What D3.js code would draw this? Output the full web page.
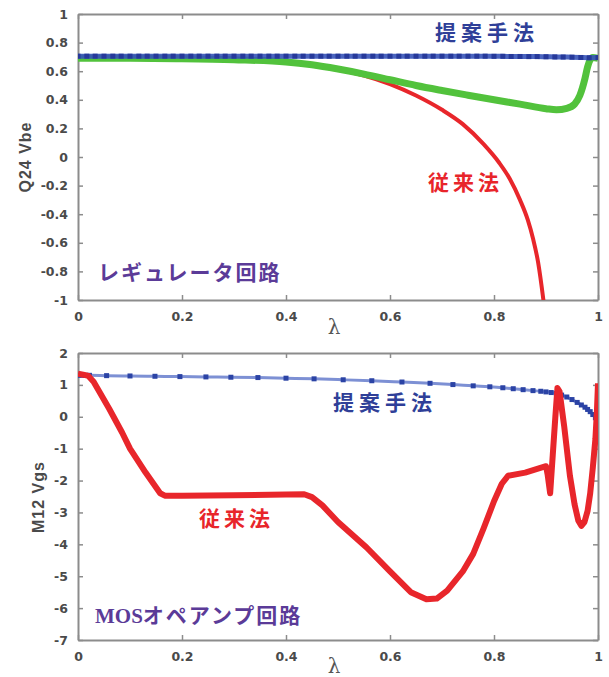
<!DOCTYPE html>
<html><head><meta charset="utf-8">
<script src="https://cdn.jsdelivr.net/npm/d3@7/dist/d3.min.js"></script>
<style>body{margin:0;background:#fff}svg{display:block}</style>
</head><body><svg id="c" width="609" height="677"></svg>
<script>
// ---------- data ----------
const xTicks = [0, 0.2, 0.4, 0.6, 0.8, 1];
const xTickLabels = ["0", "0.2", "0.4", "0.6", "0.8", "1"];
const topYTicks = [-1, -0.8, -0.6, -0.4, -0.2, 0, 0.2, 0.4, 0.6, 0.8, 1];
const topYTickLabels = ["-1", "-0.8", "-0.6", "-0.4", "-0.2", "0", "0.2", "0.4", "0.6", "0.8", "1"];
const botYTicks = [-7, -6, -5, -4, -3, -2, -1, 0, 1, 2];
const botYTickLabels = ["-7", "-6", "-5", "-4", "-3", "-2", "-1", "0", "1", "2"];

// top panel: conventional (red)
const topRedX = [0, 0.1, 0.2, 0.3, 0.4, 0.45, 0.5, 0.55, 0.6, 0.65, 0.7, 0.74, 0.78, 0.81, 0.83, 0.85, 0.865, 0.875, 0.885, 0.895, 0.9];
const topRedY = [0.70, 0.699, 0.695, 0.685, 0.66, 0.64, 0.61, 0.57, 0.51, 0.43, 0.33, 0.23, 0.09, -0.04, -0.15, -0.30, -0.44, -0.57, -0.74, -1.0, -1.15];
// top panel: green
const topGreenX = [0, 0.1, 0.2, 0.3, 0.4, 0.45, 0.5, 0.55, 0.6, 0.65, 0.7, 0.75, 0.8, 0.85, 0.9, 0.92, 0.94, 0.955, 0.965, 0.975, 0.98, 0.985, 0.99, 1.0];
const topGreenY = [0.69, 0.69, 0.687, 0.68, 0.665, 0.645, 0.615, 0.58, 0.54, 0.5, 0.465, 0.432, 0.40, 0.37, 0.338, 0.33, 0.34, 0.37, 0.43, 0.55, 0.63, 0.68, 0.695, 0.69];
// top panel: proposed (blue, markers)
const topBlueX = [0, 0.017, 0.033, 0.05, 0.067, 0.083, 0.1, 0.117, 0.133, 0.15, 0.167, 0.183, 0.2, 0.217, 0.233, 0.25, 0.267, 0.283, 0.3, 0.317, 0.333, 0.35, 0.367, 0.383, 0.4, 0.417, 0.433, 0.45, 0.467, 0.483, 0.5, 0.517, 0.533, 0.55, 0.567, 0.583, 0.6, 0.617, 0.633, 0.65, 0.667, 0.683, 0.7, 0.717, 0.733, 0.75, 0.767, 0.783, 0.8, 0.817, 0.833, 0.85, 0.867, 0.883, 0.9, 0.917, 0.933, 0.95, 0.967, 0.983, 1.0];
const topBlueY = [0.705, 0.705, 0.705, 0.705, 0.705, 0.705, 0.705, 0.705, 0.705, 0.705, 0.705, 0.705, 0.705, 0.705, 0.705, 0.705, 0.705, 0.705, 0.705, 0.705, 0.705, 0.705, 0.705, 0.705, 0.705, 0.705, 0.705, 0.705, 0.705, 0.705, 0.705, 0.705, 0.705, 0.705, 0.705, 0.705, 0.705, 0.705, 0.705, 0.705, 0.705, 0.705, 0.705, 0.705, 0.705, 0.705, 0.705, 0.705, 0.704, 0.704, 0.703, 0.703, 0.702, 0.702, 0.701, 0.700, 0.699, 0.698, 0.696, 0.694, 0.695];

// bottom panel: conventional (red)
const botRedX = [0, 0.01, 0.02, 0.03, 0.06, 0.085, 0.1, 0.13, 0.158, 0.168, 0.2, 0.3, 0.4, 0.435, 0.45, 0.47, 0.5, 0.555, 0.6, 0.64, 0.67, 0.69, 0.71, 0.74, 0.76, 0.78, 0.8, 0.815, 0.827, 0.86, 0.9, 0.903, 0.908, 0.913, 0.918, 0.922, 0.926, 0.935, 0.946, 0.955, 0.962, 0.968, 0.974, 0.98, 0.985, 0.99, 0.995, 0.998, 1.0];
const botRedY = [1.35, 1.32, 1.28, 1.10, 0.25, -0.5, -1.0, -1.75, -2.4, -2.48, -2.48, -2.46, -2.44, -2.43, -2.52, -2.78, -3.3, -4.1, -4.85, -5.5, -5.72, -5.7, -5.45, -4.85, -4.3, -3.5, -2.65, -2.1, -1.85, -1.75, -1.55, -1.8, -2.4, -1.2, 0.0, 0.9, 0.8, -0.3, -1.85, -2.75, -3.25, -3.42, -3.3, -2.95, -2.4, -1.6, -0.7, 0.2, 1.05];
// bottom panel: proposed (blue, markers)
const botBlueX = [0, 0.008, 0.015, 0.022, 0.055, 0.1, 0.148, 0.196, 0.246, 0.294, 0.346, 0.4, 0.454, 0.51, 0.565, 0.623, 0.677, 0.721, 0.76, 0.792, 0.817, 0.837, 0.856, 0.875, 0.89, 0.9, 0.91, 0.92, 0.93, 0.94, 0.95, 0.96, 0.968, 0.975, 0.98, 0.985, 0.99, 0.995, 1.0];
const botBlueY = [1.30, 1.30, 1.30, 1.30, 1.29, 1.28, 1.27, 1.26, 1.25, 1.24, 1.23, 1.21, 1.19, 1.16, 1.13, 1.09, 1.05, 1.01, 0.97, 0.94, 0.91, 0.88, 0.85, 0.82, 0.80, 0.78, 0.76, 0.73, 0.68, 0.62, 0.54, 0.45, 0.37, 0.30, 0.23, 0.16, 0.07, -0.03, -0.15];

// ---------- drawing ----------
const svg = d3.select("#c");
svg.append("rect").attr("width", 609).attr("height", 677).attr("fill", "#fff");

const x = d3.scaleLinear().domain([0, 1]).range([78, 598]);
const yTop = d3.scaleLinear().domain([-1, 1]).range([300, 14]);
const yBot = d3.scaleLinear().domain([-7, 2]).range([640, 353]);

const zip = (xs, ys) => xs.map((v, i) => [v, ys[i]]);
const GRAY = "#8c8c8c";
const TXT = "#4a4a4a";

function panel(y, yTicks, yLabels, id) {
  const g = svg.append("g");
  const [y0, y1] = y.range();
  g.append("clipPath").attr("id", id).append("rect")
    .attr("x", x(0)).attr("y", y1).attr("width", x(1) - x(0)).attr("height", y0 - y1);
  const ax = (gen, tr) => g.append("g").attr("transform", tr).call(gen)
    .call(s => s.select(".domain").attr("stroke", GRAY).attr("stroke-width", 2))
    .call(s => s.selectAll(".tick line").attr("stroke", GRAY).attr("stroke-width", 1.5));
  const lbl = s => s.selectAll("text").attr("fill", TXT)
    .attr("font-family", "DejaVu Sans, sans-serif").attr("font-size", 12.5).attr("font-weight", "bold");
  ax(d3.axisBottom(x).tickValues(xTicks).tickFormat((d, i) => xTickLabels[i]).tickSizeInner(-5).tickSizeOuter(0).tickPadding(12), `translate(0,${y0})`).call(lbl);
  ax(d3.axisTop(x).tickValues(xTicks).tickFormat("").tickSizeInner(-5).tickSizeOuter(0), `translate(0,${y1})`);
  ax(d3.axisLeft(y).tickValues(yTicks).tickFormat((d, i) => yLabels[i]).tickSizeInner(-5).tickSizeOuter(0).tickPadding(10), `translate(${x(0)},0)`).call(lbl);
  ax(d3.axisRight(y).tickValues(yTicks).tickFormat("").tickSizeInner(-5).tickSizeOuter(0), `translate(${x(1)},0)`);
  return g.append("g").attr("clip-path", `url(#${id})`);
}

// ----- top panel -----
const pt = panel(yTop, topYTicks, topYTickLabels, "clipTop");
const lineT = d3.line().x(d => x(d[0])).y(d => yTop(d[1])).curve(d3.curveMonotoneX);
pt.append("path").attr("d", lineT(zip(topRedX, topRedY))).attr("fill", "none")
  .attr("stroke", "#e8262b").attr("stroke-width", 4);
pt.append("path").attr("d", lineT(zip(topGreenX, topGreenY))).attr("fill", "none")
  .attr("stroke", "#52c23c").attr("stroke-width", 7).attr("stroke-linejoin", "round");
pt.append("path").attr("d", lineT(zip(topBlueX, topBlueY))).attr("fill", "none")
  .attr("stroke", "#3653b8").attr("stroke-width", 5).attr("opacity", 0.9);
pt.selectAll("rect.m").data(zip(topBlueX, topBlueY)).join("rect").attr("class", "m")
  .attr("x", d => x(d[0]) - 2.5).attr("y", d => yTop(d[1]) - 2.5).attr("width", 5).attr("height", 5)
  .attr("fill", "#26399a");

// ----- bottom panel -----
const pb = panel(yBot, botYTicks, botYTickLabels, "clipBot");
pb.append("path").attr("d", d3.line().x(d => x(d[0])).y(d => yBot(d[1])).curve(d3.curveMonotoneX)(zip(botBlueX, botBlueY))).attr("fill", "none")
  .attr("stroke", "#7d90d4").attr("stroke-width", 3);
pb.selectAll("rect.m").data(zip(botBlueX, botBlueY)).join("rect").attr("class", "m")
  .attr("x", d => x(d[0]) - 2.5).attr("y", d => yBot(d[1]) - 2.5).attr("width", 5).attr("height", 5)
  .attr("fill", "#2b43a5");
pb.append("path").attr("d", d3.line().x(d => x(d[0])).y(d => yBot(d[1]))(zip(botRedX, botRedY))).attr("fill", "none")
  .attr("stroke", "#e8262b").attr("stroke-width", 6).attr("stroke-linejoin", "round");

// ----- axis titles -----
const lam = (cy) => svg.append("text").attr("x", 334).attr("y", cy).attr("text-anchor", "middle")
  .attr("font-family", "DejaVu Serif, serif").attr("font-size", 20).attr("fill", "#555").text("λ");
lam(334); lam(673);
const ylab = (cx, cy, t) => svg.append("text").attr("transform", `translate(${cx},${cy}) rotate(-90)`)
  .attr("text-anchor", "middle").attr("dominant-baseline", "central")
  .attr("font-family", "Liberation Sans, Arial, sans-serif").attr("font-size", 16).attr("font-weight", "bold")
  .attr("letter-spacing", 1).attr("fill", TXT).text(t);
ylab(25, 157, "Q24 Vbe");
ylab(38, 497, "M12 Vgs");

// ----- annotations -----
const ann = (tx, ty, t, col, ls) => svg.append("text").attr("x", tx).attr("y", ty)
  .attr("font-family", "Noto Sans CJK JP, sans-serif").attr("font-size", 21).attr("font-weight", "bold")
  .attr("letter-spacing", ls).attr("fill", col).text(t);
const BLUE = "#2f3f98", RED = "#e8252a", PURP = "#5b3b98";
ann(435, 40, "提案手法", BLUE, 5);
ann(428, 190, "従来法", RED, 4);
ann(98, 280, "レギュレータ回路", PURP, 2);
ann(333, 410, "提案手法", BLUE, 5);
ann(199, 526, "従来法", RED, 4);
const mos = svg.append("text").attr("x", 95).attr("y", 623).attr("fill", PURP).attr("font-weight", "bold").attr("font-size", 21);
mos.append("tspan").attr("font-family", "Liberation Serif, Times New Roman, serif").text("MOS");
mos.append("tspan").attr("font-family", "Noto Sans CJK JP, sans-serif").attr("letter-spacing", 2).text("オペアンプ回路");
</script></body></html>
